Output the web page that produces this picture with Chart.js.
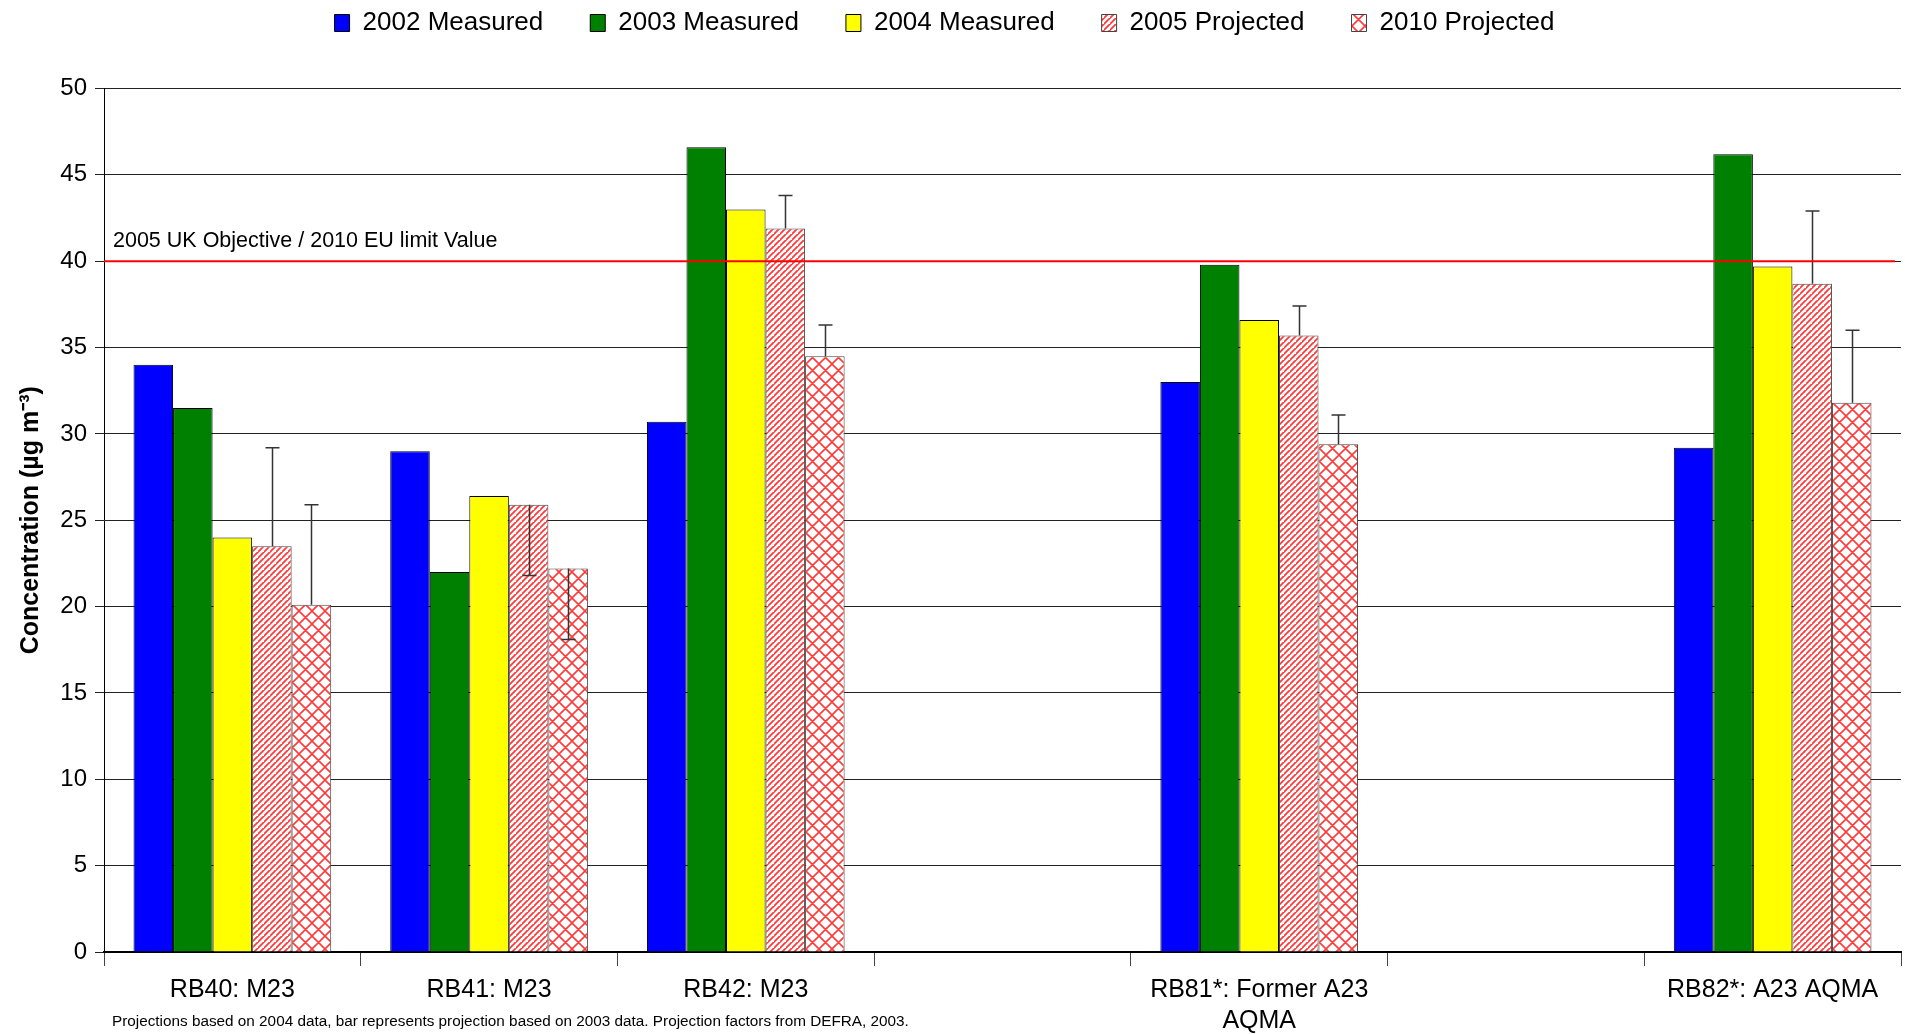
<!DOCTYPE html>
<html>
<head>
<meta charset="utf-8">
<script src="https://cdn.jsdelivr.net/npm/chart.js@4.4.1/dist/chart.umd.min.js"></script>
<style>
  html, body { margin: 0; padding: 0; background: #fff; }
  #wrap { width: 1905px; height: 1034px; position: relative; }
</style>
</head>
<body>
<div id="wrap"><canvas id="chart"></canvas></div>
<script>
// categorie (le colonne vuote sono i siti senza dati nel grafico originale)
const categories = [
  'RB40: M23', 'RB41: M23', 'RB42: M23', '',
  ['RB81*: Former A23', 'AQMA'], '', 'RB82*: A23 AQMA'
];
const seriesNames = ['2002 Measured', '2003 Measured', '2004 Measured', '2005 Projected', '2010 Projected'];

const measured2002  = [34.0, 29.0, 30.7, null, 33.0, null, 29.2];
const measured2003  = [31.5, 22.0, 46.6, null, 39.8, null, 46.2];
const measured2004  = [24.0, 26.4, 43.0, null, 36.6, null, 39.7];
const projected2005 = [23.5, 25.9, 41.9, null, 35.7, null, 38.7];
const projected2010 = [20.1, 22.2, 34.5, null, 29.4, null, 31.8];

// proiezioni basate sui dati 2003 (disegnate come barre d'errore)
const projected2005From2003 = [29.2, 21.8, 43.8, null, 37.4, null, 42.9];
const projected2010From2003 = [25.9, 18.1, 36.3, null, 31.1, null, 36.0];

const yTicks = [0, 5, 10, 15, 20, 25, 30, 35, 40, 45, 50];
const limitValue = 40;
const limitLabel = '2005 UK Objective / 2010 EU limit Value';
const footnote = 'Projections based on 2004 data, bar represents projection based on 2003 data. Projection factors from DEFRA, 2003.';

const FONT = '"Liberation Sans", Arial, sans-serif';

function makePattern(kind) {
  const size = kind === 'stripe' ? 6 : 13;
  const c = document.createElement('canvas');
  c.width = size; c.height = size;
  const g = c.getContext('2d');
  g.fillStyle = '#ffffff';
  g.fillRect(0, 0, size, size);
  g.strokeStyle = '#ff3a3a';
  g.lineWidth = kind === 'stripe' ? 1.8 : 1.6;
  g.beginPath();
  // diagonale "/"
  g.moveTo(-1, size + 1); g.lineTo(size + 1, -1);
  g.moveTo(-size - 1, size + 1); g.lineTo(1, -1);
  g.moveTo(size - 1, 2 * size + 1); g.lineTo(2 * size + 1, size - 1);
  if (kind === 'cross') {
    g.moveTo(-1, -1); g.lineTo(size + 1, size + 1);
    g.moveTo(-size - 1, -1); g.lineTo(1, size + 1);
    g.moveTo(size - 1, -1); g.lineTo(2 * size + 1, size + 1);
  }
  g.stroke();
  return document.createElement('canvas').getContext('2d').createPattern(c, 'repeat');
}

const stripe = makePattern('stripe');
const cross = makePattern('cross');

const errorBars = {
  id: 'errorBars',
  afterDatasetsDraw(chart) {
    const ctx = chart.ctx;
    const y = chart.scales.y;
    const pairs = [[3, projected2005, projected2005From2003], [4, projected2010, projected2010From2003]];
    ctx.save();
    ctx.strokeStyle = '#333';
    ctx.lineWidth = 1.5;
    pairs.forEach(([di, vals, alt]) => {
      const meta = chart.getDatasetMeta(di);
      meta.data.forEach((bar, i) => {
        if (vals[i] == null || alt[i] == null) return;
        const x = Math.round(bar.x) + 0.5;
        const y0 = y.getPixelForValue(vals[i]);
        const y1 = y.getPixelForValue(alt[i]);
        ctx.beginPath();
        ctx.moveTo(x, y0); ctx.lineTo(x, y1);
        ctx.moveTo(x - 7, y1); ctx.lineTo(x + 7, y1);
        ctx.stroke();
      });
    });
    ctx.restore();
  }
};

const limitLine = {
  id: 'limitLine',
  afterDatasetsDraw(chart) {
    const ctx = chart.ctx;
    const area = chart.chartArea;
    const yy = chart.scales.y.getPixelForValue(limitValue);
    ctx.save();
    ctx.strokeStyle = '#ff0000';
    ctx.lineWidth = 2;
    ctx.beginPath();
    ctx.moveTo(area.left, yy); ctx.lineTo(area.right - 6, yy);
    ctx.stroke();
    ctx.fillStyle = '#000';
    ctx.font = '21.5px ' + FONT;
    ctx.textBaseline = 'alphabetic';
    ctx.fillText(limitLabel, area.left + 9, yy - 14);
    ctx.restore();
  }
};

const footnotePlugin = {
  id: 'footnote',
  afterDraw(chart) {
    const ctx = chart.ctx;
    ctx.save();
    ctx.fillStyle = '#000';
    ctx.font = '15.3px ' + FONT;
    ctx.textBaseline = 'middle';
    ctx.fillText(footnote, 112, 1022);
    ctx.restore();
  }
};

// la legenda di Chart.js usa labels.padding anche in verticale: la sposto in alto
const legendSpacing = {
  id: 'legendSpacing',
  beforeInit(chart) {
    const fit = chart.legend.fit;
    chart.legend.fit = function () {
      fit.call(this);
      this.height += 1.5;
    };
  },
  afterLayout(chart) {
    chart.legend.top -= 41;
    chart.legend.bottom -= 41;
    chart.legend.left -= 14;
    chart.legend.right -= 14;
  }
};

const colors = ['#0000ff', '#008000', '#ffff00', stripe, cross];
const series = [measured2002, measured2003, measured2004, projected2005, projected2010];

new Chart(document.getElementById('chart'), {
  type: 'bar',
  data: {
    labels: categories,
    datasets: series.map((vals, i) => ({
      label: seriesNames[i],
      data: vals,
      backgroundColor: colors[i],
      borderColor: i < 3 ? '#000' : '#444',
      borderWidth: 1,
      borderSkipped: 'bottom',
      categoryPercentage: 0.77,
      barPercentage: 1.0
    }))
  },
  options: {
    responsive: true,
    maintainAspectRatio: false,
    animation: false,
    layout: { padding: { top: 4, right: 4, left: 16, bottom: 0 } },
    plugins: {
      legend: {
        position: 'top',
        labels: {
          font: { family: FONT, size: 26 },
          color: '#000',
          boxWidth: 15,
          boxHeight: 17,
          padding: 47
        }
      },
      tooltip: { enabled: false }
    },
    scales: {
      x: {
        offset: true,
        grid: { offset: true, drawOnChartArea: false, drawTicks: true, tickLength: 14, color: '#444' },
        border: { color: '#000', width: 2 },
        ticks: { font: { family: FONT, size: 25, lineHeight: 1.25 }, color: '#000', maxRotation: 0, autoSkip: false, padding: 8 },
        afterFit(s) { s.height = 82; }
      },
      y: {
        min: 0,
        max: 50,
        afterBuildTicks(s) { s.ticks = yTicks.map(v => ({ value: v })); },
        grid: { color: '#222', lineWidth: 1, tickLength: 9 },
        border: { color: '#000', width: 1 },
        ticks: { font: { family: FONT, size: 24 }, color: '#000', padding: 8 },
        title: {
          display: true,
          text: 'Concentration (µg m⁻³)',
          font: { family: FONT, size: 25, weight: 'bold' },
          color: '#000',
          padding: { top: 0, bottom: 4 }
        },
        afterFit(s) { s.width = 88; }
      }
    }
  },
  plugins: [errorBars, limitLine, footnotePlugin, legendSpacing]
});
</script>
</body>
</html>
